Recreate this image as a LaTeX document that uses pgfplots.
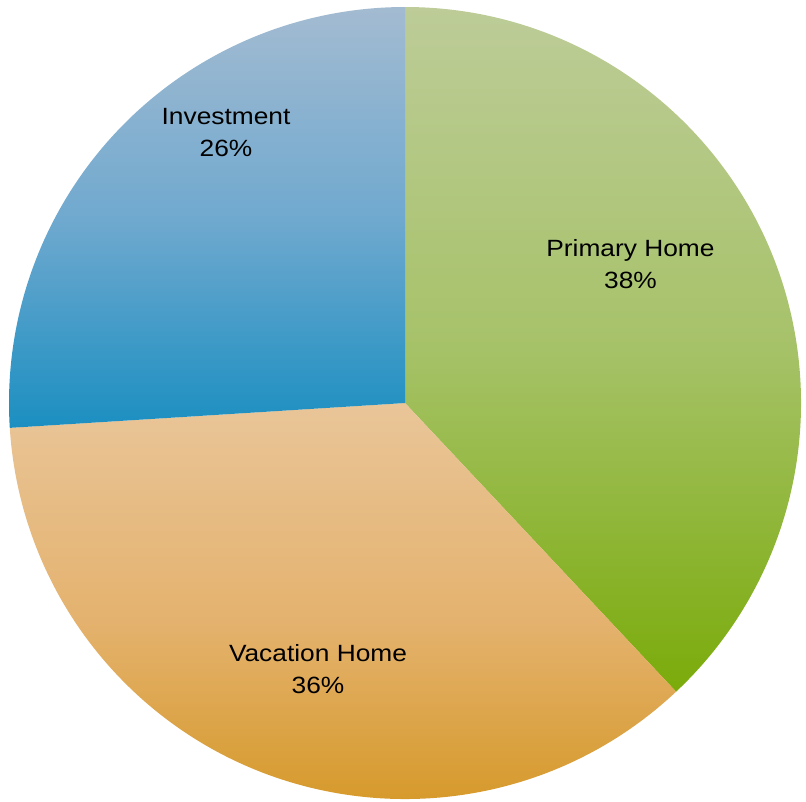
\documentclass[border=0pt]{standalone}
\usepackage{fontspec}
\setmainfont{Liberation Sans}
\usepackage{pgfplots}
\pgfplotsset{compat=1.18}
\usepackage{pgfplotstable}

% slice colours, light at the top of each slice, dark at the bottom
\definecolor{greenTop}{HTML}{BDCC98}
\definecolor{greenMid}{HTML}{A6C268}
\definecolor{greenBot}{HTML}{7AAB0A}
\definecolor{orangeTop}{HTML}{E9C598}
\definecolor{orangeMid}{HTML}{E4B26E}
\definecolor{orangeBot}{HTML}{D3941C}
\definecolor{blueTop}{HTML}{A3BBD1}
\definecolor{blueMid}{HTML}{70A9CF}
\definecolor{blueBot}{HTML}{1B8FC1}

\pgfplotstableread{
label      share
Primary    38
Vacation   36
Investment 26
}\sharetable

\pgfplotstablegetelem{0}{share}\of\sharetable \let\sA\pgfplotsretval
\pgfplotstablegetelem{1}{share}\of\sharetable \let\sB\pgfplotsretval
\pgfplotstablegetelem{2}{share}\of\sharetable \let\sC\pgfplotsretval
% slices run clockwise from 12 o'clock
\pgfmathsetmacro{\aA}{90}
\pgfmathsetmacro{\aB}{\aA-3.6*\sA}
\pgfmathsetmacro{\aC}{\aB-3.6*\sB}
\pgfmathsetmacro{\aD}{\aC-3.6*\sC}

\def\R{198pt}
\newcommand{\lbl}[1]{\scalebox{1.12}[1]{#1}}
\tikzset{slicelabel/.style={font=\fontsize{11.75pt}{14pt}\selectfont, anchor=base, text=black, inner sep=0pt}}

\begin{document}
\begin{tikzpicture}
\begin{axis}[
  x=198pt, y=198pt,
  xmin=-1.0227, xmax=1.0126,
  ymin=-1.0051, ymax=1.0177,
  hide axis,
  clip=false]

\coordinate (bl) at (rel axis cs:0,0);
\coordinate (tr) at (rel axis cs:1,1);

% Primary Home
\path[top color=greenTop, bottom color=greenBot, middle color=greenMid]
  (axis cs:0,0) -- (axis cs:0,1) arc[start angle=\aA, end angle=\aB, radius=\R] -- cycle;
% Vacation Home
\path[top color=orangeTop, bottom color=orangeBot, middle color=orangeMid]
  (axis cs:0,0) -- ++(\aB:\R) arc[start angle=\aB, end angle=\aC, radius=\R] -- cycle;
% Investment
\path[top color=blueTop, bottom color=blueBot, middle color=blueMid]
  (axis cs:0,0) -- ++(\aC:\R) arc[start angle=\aC, end angle=\aD, radius=\R] -- cycle;

\node[slicelabel] at (axis cs:-0.452,0.7045) {\lbl{Investment}};
\node[slicelabel] at (axis cs:-0.452,0.6237) {\lbl{26\%}};
\node[slicelabel] at (axis cs:0.5694,0.3694) {\lbl{Primary Home}};
\node[slicelabel] at (axis cs:0.5694,0.2904) {\lbl{38\%}};
\node[slicelabel] at (axis cs:-0.2197,-0.6533) {\lbl{Vacation Home}};
\node[slicelabel] at (axis cs:-0.2197,-0.7323) {\lbl{36\%}};
\end{axis}
\pgfresetboundingbox
\useasboundingbox (bl) rectangle (tr);
\end{tikzpicture}
\end{document}
